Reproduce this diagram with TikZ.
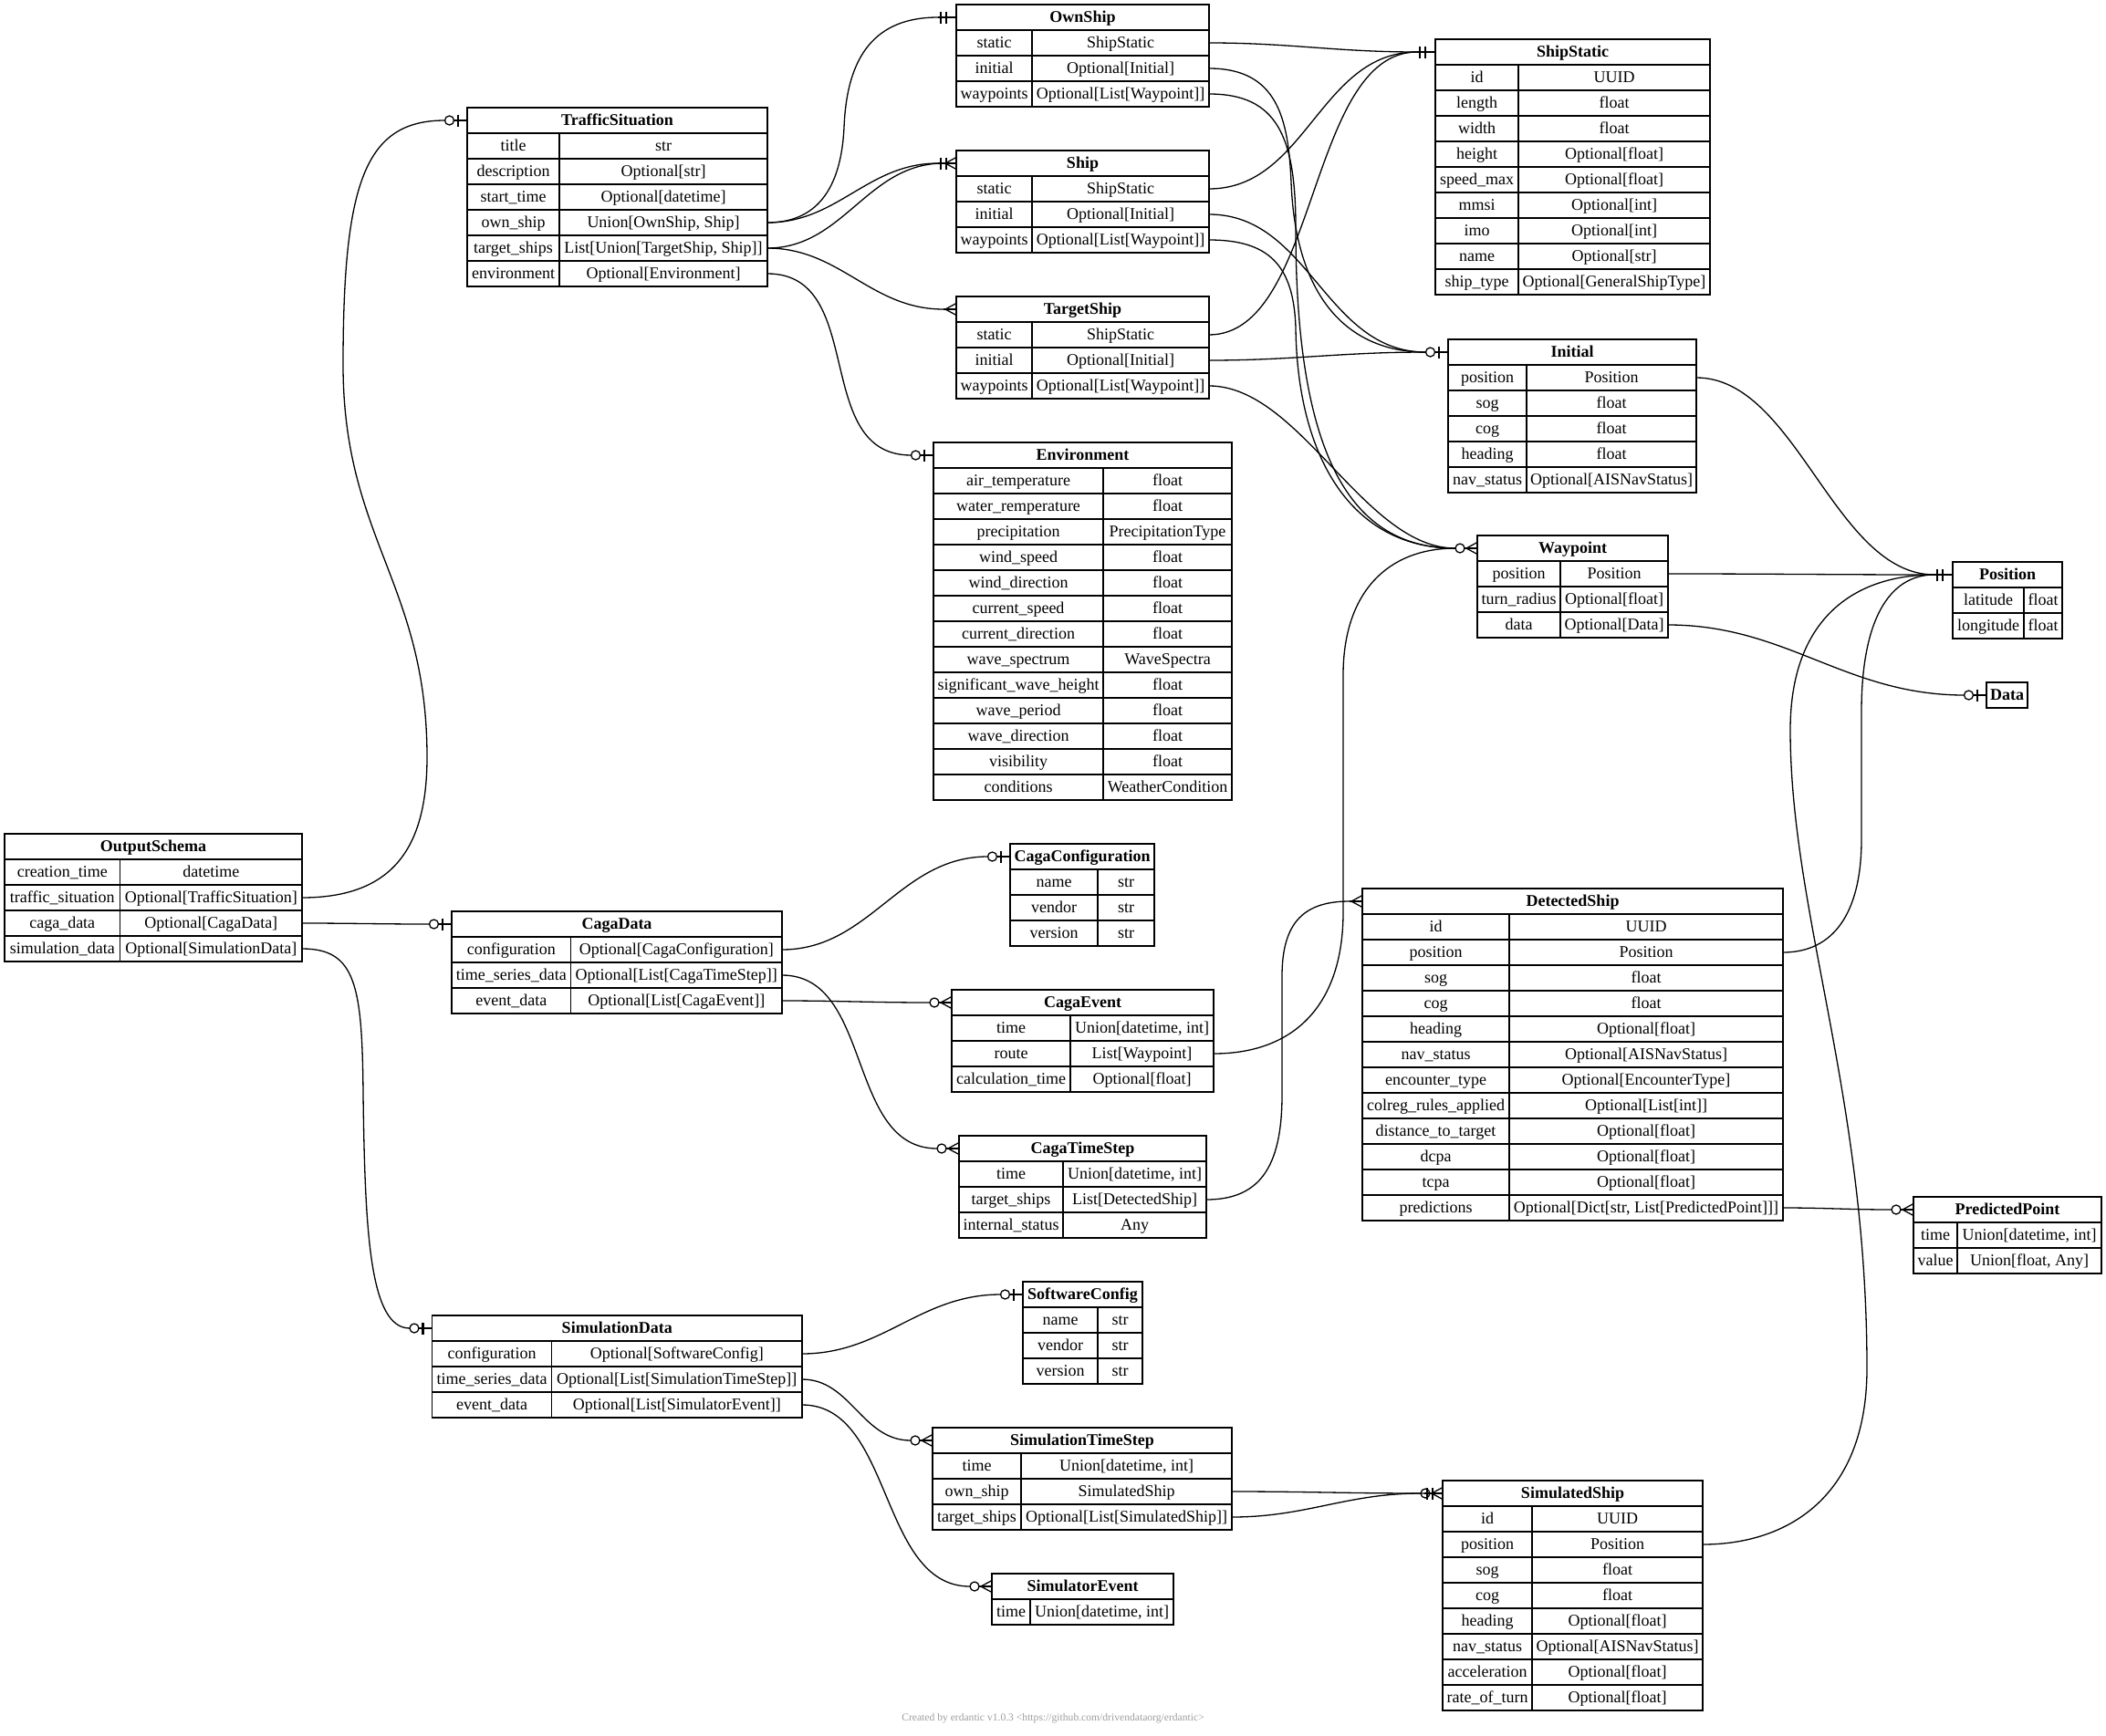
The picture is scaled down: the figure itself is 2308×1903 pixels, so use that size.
\documentclass[tikz,border=0pt]{standalone}
\usepackage{fontspec}
\setmainfont{Liberation Serif}
\tikzset{
  cell/.style={draw, line width=1.3pt, inner sep=0pt, outer sep=0pt, minimum height=28pt,
    text height=14pt, text depth=3pt, font=\fontsize{18}{21}\selectfont},
  hdrcell/.style={cell, font=\fontsize{18}{21}\selectfont\bfseries},
  edge/.style={line width=1.3pt},
  mbar/.style={line width=2.4pt},
}
\newcommand\ertab[6]{%
  \def\tL{#2}\def\tT{#3}\def\tD{#4}\def\tR{#5}%
  \node[hdrcell, minimum width={(#5-#2)*1pt}] (#1) at ({(#2+#5)/2},{#3+14}) {#6};}
\newcommand\erow[4]{%
  \node[cell, minimum width={(\tD-\tL)*1pt}] (#1-k#2) at ({(\tL+\tD)/2},{\tT+28*#2+14}) {#3};
  \node[cell, minimum width={(\tR-\tD)*1pt}] (#1-#2) at ({(\tD+\tR)/2},{\tT+28*#2+14}) {#4};}
\newcommand\mkOne[1]{%
  \draw[edge] ([xshift=-20pt]#1.west) -- (#1.west);
  \draw[mbar] ([xshift=-11pt,yshift=6.5pt]#1.west) -- ([xshift=-11pt,yshift=-6.5pt]#1.west);
  \draw[mbar] ([xshift=-17pt,yshift=6.5pt]#1.west) -- ([xshift=-17pt,yshift=-6.5pt]#1.west);}
\newcommand\mkOptOne[1]{%
  \draw[edge] ([xshift=-14.5pt]#1.west) -- (#1.west);
  \draw[edge] ([xshift=-19.5pt]#1.west) circle[radius=5pt];
  \draw[mbar] ([xshift=-10pt,yshift=6.5pt]#1.west) -- ([xshift=-10pt,yshift=-6.5pt]#1.west);}
\newcommand\mkMany[1]{%
  \draw[edge] ([xshift=-14pt]#1.west) -- (#1.west);
  \draw[edge] ([yshift=6.5pt]#1.west) -- ([xshift=-12pt]#1.west) -- ([yshift=-6.5pt]#1.west);}
\newcommand\mkOptMany[1]{%
  \draw[edge] ([xshift=-14pt]#1.west) -- (#1.west);
  \draw[edge] ([xshift=-19pt]#1.west) circle[radius=5pt];
  \draw[edge] ([yshift=6.5pt]#1.west) -- ([xshift=-12pt]#1.west) -- ([yshift=-6.5pt]#1.west);}
\begin{document}
\begin{tikzpicture}[x=1pt,y=-1pt]
\useasboundingbox (0,0) rectangle (2308,1903);
\fill[white] (0,0) rectangle (2308,1903);

% ---------- tables ----------
\ertab{TS}{512}{118}{613}{841}{TrafficSituation}
\erow{TS}{1}{title}{str}
\erow{TS}{2}{description}{Optional[str]}
\erow{TS}{3}{start\_time}{Optional[datetime]}
\erow{TS}{4}{own\_ship}{Union[OwnShip, Ship]}
\erow{TS}{5}{target\_ships}{List[Union[TargetShip, Ship]]}
\erow{TS}{6}{environment}{Optional[Environment]}

\ertab{OWN}{1048}{5}{1131}{1325}{OwnShip}
\erow{OWN}{1}{static}{ShipStatic}
\erow{OWN}{2}{initial}{Optional[Initial]}
\erow{OWN}{3}{waypoints}{Optional[List[Waypoint]]}

\ertab{SHIP}{1048}{165}{1131}{1325}{Ship}
\erow{SHIP}{1}{static}{ShipStatic}
\erow{SHIP}{2}{initial}{Optional[Initial]}
\erow{SHIP}{3}{waypoints}{Optional[List[Waypoint]]}

\ertab{TGT}{1048}{325}{1131}{1325}{TargetShip}
\erow{TGT}{1}{static}{ShipStatic}
\erow{TGT}{2}{initial}{Optional[Initial]}
\erow{TGT}{3}{waypoints}{Optional[List[Waypoint]]}

\ertab{SST}{1573}{43}{1664}{1874}{ShipStatic}
\erow{SST}{1}{id}{UUID}
\erow{SST}{2}{length}{float}
\erow{SST}{3}{width}{float}
\erow{SST}{4}{height}{Optional[float]}
\erow{SST}{5}{speed\_max}{Optional[float]}
\erow{SST}{6}{mmsi}{Optional[int]}
\erow{SST}{7}{imo}{Optional[int]}
\erow{SST}{8}{name}{Optional[str]}
\erow{SST}{9}{ship\_type}{Optional[GeneralShipType]}

\ertab{INI}{1587}{372}{1673}{1859}{Initial}
\erow{INI}{1}{position}{Position}
\erow{INI}{2}{sog}{float}
\erow{INI}{3}{cog}{float}
\erow{INI}{4}{heading}{float}
\erow{INI}{5}{nav\_status}{Optional[AISNavStatus]}

\ertab{ENV}{1023}{485}{1209}{1350}{Environment}
\erow{ENV}{1}{air\_temperature}{float}
\erow{ENV}{2}{water\_remperature}{float}
\erow{ENV}{3}{precipitation}{PrecipitationType}
\erow{ENV}{4}{wind\_speed}{float}
\erow{ENV}{5}{wind\_direction}{float}
\erow{ENV}{6}{current\_speed}{float}
\erow{ENV}{7}{current\_direction}{float}
\erow{ENV}{8}{wave\_spectrum}{WaveSpectra}
\erow{ENV}{9}{significant\_wave\_height}{float}
\erow{ENV}{10}{wave\_period}{float}
\erow{ENV}{11}{wave\_direction}{float}
\erow{ENV}{12}{visibility}{float}
\erow{ENV}{13}{conditions}{WeatherCondition}

\ertab{WP}{1619}{587}{1710}{1828}{Waypoint}
\erow{WP}{1}{position}{Position}
\erow{WP}{2}{turn\_radius}{Optional[float]}
\erow{WP}{3}{data}{Optional[Data]}

\ertab{POS}{2140}{616}{2218}{2260}{Position}
\erow{POS}{1}{latitude}{float}
\erow{POS}{2}{longitude}{float}

\ertab{DATA}{2177}{748}{2200}{2222}{Data}

\ertab{OS}{5}{914}{131.5}{331}{OutputSchema}
\erow{OS}{1}{creation\_time}{datetime}
\erow{OS}{2}{traffic\_situation}{Optional[TrafficSituation]}
\erow{OS}{3}{caga\_data}{Optional[CagaData]}
\erow{OS}{4}{simulation\_data}{Optional[SimulationData]}

\ertab{CD}{495}{999}{625.5}{857}{CagaData}
\erow{CD}{1}{configuration}{Optional[CagaConfiguration]}
\erow{CD}{2}{time\_series\_data}{Optional[List[CagaTimeStep]]}
\erow{CD}{3}{event\_data}{Optional[List[CagaEvent]]}

\ertab{CC}{1107}{925}{1203}{1265}{CagaConfiguration}
\erow{CC}{1}{name}{str}
\erow{CC}{2}{vendor}{str}
\erow{CC}{3}{version}{str}

\ertab{CE}{1043}{1085}{1173}{1330}{CagaEvent}
\erow{CE}{1}{time}{Union[datetime, int]}
\erow{CE}{2}{route}{List[Waypoint]}
\erow{CE}{3}{calculation\_time}{Optional[float]}

\ertab{CTS}{1051}{1245}{1165}{1322}{CagaTimeStep}
\erow{CTS}{1}{time}{Union[datetime, int]}
\erow{CTS}{2}{target\_ships}{List[DetectedShip]}
\erow{CTS}{3}{internal\_status}{Any}

\ertab{DS}{1493}{974}{1654}{1954}{DetectedShip}
\erow{DS}{1}{id}{UUID}
\erow{DS}{2}{position}{Position}
\erow{DS}{3}{sog}{float}
\erow{DS}{4}{cog}{float}
\erow{DS}{5}{heading}{Optional[float]}
\erow{DS}{6}{nav\_status}{Optional[AISNavStatus]}
\erow{DS}{7}{encounter\_type}{Optional[EncounterType]}
\erow{DS}{8}{colreg\_rules\_applied}{Optional[List[int]]}
\erow{DS}{9}{distance\_to\_target}{Optional[float]}
\erow{DS}{10}{dcpa}{Optional[float]}
\erow{DS}{11}{tcpa}{Optional[float]}
\erow{DS}{12}{predictions}{Optional[Dict[str, List[PredictedPoint]]]}

\ertab{PP}{2097}{1312}{2145}{2303}{PredictedPoint}
\erow{PP}{1}{time}{Union[datetime, int]}
\erow{PP}{2}{value}{Union[float, Any]}

\ertab{SD}{473.5}{1442}{604.5}{879}{SimulationData}
\erow{SD}{1}{configuration}{Optional[SoftwareConfig]}
\erow{SD}{2}{time\_series\_data}{Optional[List[SimulationTimeStep]]}
\erow{SD}{3}{event\_data}{Optional[List[SimulatorEvent]]}

\ertab{SC}{1121}{1405}{1203}{1252}{SoftwareConfig}
\erow{SC}{1}{name}{str}
\erow{SC}{2}{vendor}{str}
\erow{SC}{3}{version}{str}

\ertab{STS}{1022}{1565}{1119}{1350}{SimulationTimeStep}
\erow{STS}{1}{time}{Union[datetime, int]}
\erow{STS}{2}{own\_ship}{SimulatedShip}
\erow{STS}{3}{target\_ships}{Optional[List[SimulatedShip]]}

\ertab{SE}{1087}{1725}{1129}{1286}{SimulatorEvent}
\erow{SE}{1}{time}{Union[datetime, int]}

\ertab{SIM}{1581}{1623}{1679}{1866}{SimulatedShip}
\erow{SIM}{1}{id}{UUID}
\erow{SIM}{2}{position}{Position}
\erow{SIM}{3}{sog}{float}
\erow{SIM}{4}{cog}{float}
\erow{SIM}{5}{heading}{Optional[float]}
\erow{SIM}{6}{nav\_status}{Optional[AISNavStatus]}
\erow{SIM}{7}{acceleration}{Optional[float]}
\erow{SIM}{8}{rate\_of\_turn}{Optional[float]}

% ---------- connectors ----------
\draw[edge] (OS-2.east) .. controls (430,984) and (468,930) .. (468,830) .. controls (468,640) and (376,590) .. (376,400) .. controls (376,200) and (400,132) .. ([xshift=-24.5pt]TS.west);
\draw[edge] (OS-3.east) to[out=0,in=180] ([xshift=-24.5pt]CD.west);
\draw[edge] (OS-4.east) .. controls (390,1040) and (397,1080) .. (398,1200) .. controls (400,1350) and (405,1456) .. ([xshift=-24.5pt]SD.west);

\draw[edge] (TS-4.east) .. controls (900,244) and (922,200) .. (925,140) .. controls (928,60) and (960,19) .. ([xshift=-20pt]OWN.west);
\draw[edge] (TS-4.east) to[out=0,in=180] ([xshift=-20pt]SHIP.west);
\draw[edge] (TS-5.east) to[out=0,in=180] ([xshift=-14pt]SHIP.west);
\draw[edge] (TS-5.east) to[out=0,in=180] ([xshift=-14pt]TGT.west);
\draw[edge] (TS-6.east) to[out=0,in=180,out distance=110pt,in distance=110pt] ([xshift=-24.5pt]ENV.west);

\draw[edge] (OWN-1.east) to[out=0,in=180] ([xshift=-20pt]SST.west);
\draw[edge] (SHIP-1.east) to[out=0,in=180] ([xshift=-20pt]SST.west);
\draw[edge] (TGT-1.east) to[out=0,in=180,out distance=120pt,in distance=120pt] ([xshift=-20pt]SST.west);
\draw[edge] (OWN-2.east) .. controls (1400,75) and (1412,130) .. (1415,200) .. controls (1420,330) and (1480,386) .. ([xshift=-24.5pt]INI.west);
\draw[edge] (SHIP-2.east) to[out=0,in=180] ([xshift=-24.5pt]INI.west);
\draw[edge] (TGT-2.east) to[out=0,in=180] ([xshift=-24.5pt]INI.west);
\draw[edge] (OWN-3.east) .. controls (1400,103) and (1420,150) .. (1420,250) .. controls (1420,500) and (1480,601) .. ([xshift=-24pt]WP.west);
\draw[edge] (SHIP-3.east) .. controls (1390,263) and (1418,290) .. (1420,360) .. controls (1422,500) and (1480,601) .. ([xshift=-24pt]WP.west);
\draw[edge] (TGT-3.east) to[out=0,in=180,out distance=100pt,in distance=100pt] ([xshift=-24pt]WP.west);

\draw[edge] (INI-1.east) to[out=0,in=180,out distance=110pt,in distance=110pt] ([xshift=-20pt]POS.west);
\draw[edge] (WP-1.east) to[out=0,in=180] ([xshift=-20pt]POS.west);
\draw[edge] (WP-3.east) to[out=0,in=180] ([xshift=-24.5pt]DATA.west);

\draw[edge] (CD-1.east) to[out=0,in=180] ([xshift=-24.5pt]CC.west);
\draw[edge] (CD-2.east) to[out=0,in=180,out distance=100pt,in distance=100pt] ([xshift=-24pt]CTS.west);
\draw[edge] (CD-3.east) to[out=0,in=180] ([xshift=-24pt]CE.west);
\draw[edge] (CE-2.east) .. controls (1420,1155) and (1472,1100) .. (1472,1000) -- (1472,740) .. controls (1472,650) and (1520,601) .. ([xshift=-24pt]WP.west);
\draw[edge] (CTS-2.east) .. controls (1380,1315) and (1405,1280) .. (1405,1200) -- (1405,1070) .. controls (1405,1010) and (1430,988) .. ([xshift=-14pt]DS.west);
\draw[edge] (DS-2.east) .. controls (2010,1044) and (2040,1000) .. (2040,920) -- (2040,780) .. controls (2040,680) and (2070,630) .. ([xshift=-20pt]POS.west);
\draw[edge] (DS-12.east) to[out=0,in=180] ([xshift=-24pt]PP.west);

\draw[edge] (SD-1.east) to[out=0,in=180] ([xshift=-24.5pt]SC.west);
\draw[edge] (SD-2.east) to[out=0,in=180] ([xshift=-24pt]STS.west);
\draw[edge] (SD-3.east) to[out=0,in=180,out distance=100pt,in distance=100pt] ([xshift=-24pt]SE.west);
\draw[edge] (STS-2.east) to[out=0,in=180] ([xshift=-20pt]SIM.west);
\draw[edge] (STS-3.east) to[out=0,in=180] ([xshift=-24pt]SIM.west);
\draw[edge] (SIM-2.east) .. controls (1960,1693) and (2046,1640) .. (2046,1500) .. controls (2046,1200) and (1962,1000) .. (1962,800) .. controls (1962,680) and (2030,630) .. ([xshift=-20pt]POS.west);

% ---------- end markers ----------
\mkOptOne{TS}
\mkOptOne{CD}
\mkOptOne{SD}
\mkOne{OWN}
\mkOne{SHIP}
\mkMany{SHIP}
\mkMany{TGT}
\mkOptOne{ENV}
\mkOne{SST}
\mkOptOne{INI}
\mkOptMany{WP}
\mkOne{POS}
\mkOptOne{DATA}
\mkOptOne{CC}
\mkOptMany{CE}
\mkOptMany{CTS}
\mkMany{DS}
\mkOptMany{PP}
\mkOptOne{SC}
\mkOptMany{STS}
\mkOptMany{SE}
\mkOne{SIM}
\mkOptMany{SIM}

\node[font=\fontsize{11.6}{13}\selectfont, text=black!38] (footer) at (1154,1884) {Created by erdantic v1.0.3 <https://github.com/drivendataorg/erdantic>};
\end{tikzpicture}
\end{document}
